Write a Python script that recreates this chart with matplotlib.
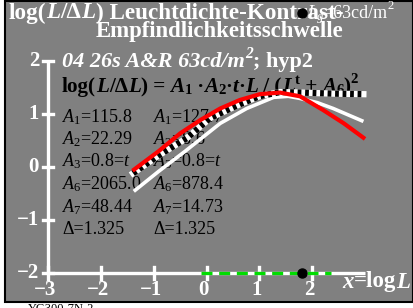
import numpy as np
import matplotlib
matplotlib.use("Agg")
import matplotlib.pyplot as plt
from matplotlib.patches import Rectangle

plt.rcParams['font.family'] = ['Liberation Serif', 'DejaVu Serif']
plt.rcParams['mathtext.fontset'] = 'custom'
plt.rcParams['mathtext.rm'] = 'Liberation Serif'
plt.rcParams['mathtext.it'] = 'Liberation Serif:italic'
plt.rcParams['mathtext.bf'] = 'Liberation Serif:bold'

# curves (x = log L, y = log(L/dL))
red_x = [-1.37, -0.9, -0.5, -0.12, 0.26, 0.63, 1.01, 1.39, 1.77, 2.21, 2.6, 2.97]
red_y = [-0.05, 0.30, 0.63, 0.88, 1.10, 1.26, 1.37, 1.40, 1.33, 1.07, 0.82, 0.55]

white_x = [-1.35, -0.9, -0.41, 0.26, 0.76, 1.27, 1.55, 1.77, 2.1, 2.4, 2.94]
white_y = [-0.44, -0.08, 0.29, 0.82, 1.10, 1.31, 1.33, 1.29, 1.21, 1.10, 0.87]

dash_x = [-1.39, -0.9, -0.375, 0.07, 0.63, 1.0, 1.39, 1.8, 2.4, 2.97]
dash_y = [-0.12, 0.22, 0.54, 0.92, 1.18, 1.33, 1.41, 1.40, 1.38, 1.37]

green_x = [-0.1, 2.35]
adapt_x = 1.8

xticks = [-3, -2, -1, 0, 1, 2]
yticks = [-2, -1, 0, 1, 2]
xlabels = ['\u22123', '\u22122', '\u22121', '0', '1', '2']
ylabels = ['\u22122', '\u22121', '0', '1', '2']

col1 = [r'$A_1$=115.8', r'$A_2$=22.29', r'$A_3$=0.8=$t$', r'$A_6$=2065.0', r'$A_7$=48.44', '\u0394=1.325']
col2 = [r'$A_1$=127.7', r'$A_2$=8.6', r'$A_3$=0.8=$t$', r'$A_6$=878.4', r'$A_7$=14.73', '\u0394=1.325']

W, H = 413, 308
fig = plt.figure(figsize=(W / 100, H / 100), dpi=100)
ax = fig.add_axes([0, 0, 1, 1])
ax.set_xlim(-3.91, 3.91)
ax.set_ylim(-2.66, 3.145)
ax.axis('off')
renderer = fig.canvas.get_renderer()
ftr = fig.transFigure


def px(p, q):
    return p / W, 1 - q / H


def seq(p, q, parts, color, size, weight='normal', z=5):
    # parts: (text, italic, rise in px); rise != 0 -> small script
    x = p
    for s, it, rise in parts:
        fs = size * 0.7 if rise else size
        t = ax.text(*px(x, q - rise), s, color=color, fontsize=fs, fontweight=weight,
                    fontstyle='italic' if it else 'normal', va='center', ha='left',
                    zorder=z, transform=ftr, clip_on=False)
        x += t.get_window_extent(renderer).width
    return x


bg = Rectangle(px(5, 302), (W - 5) / W, 301 / H, transform=ftr, clip_on=False,
               facecolor='#808080', edgecolor='black', lw=1.5, zorder=0)
ax.add_patch(bg)

# axes
ax.plot([-3, 3.0], [-2, -2], color='white', lw=2.4, zorder=2, solid_capstyle='butt')
ax.plot([-3, -3], [-2, 2], color='white', lw=2.4, zorder=2, solid_capstyle='butt')
for t in xticks:
    ax.plot([t, t], [-2.11, -1.89], color='white', lw=2.4, zorder=2)
for t in yticks:
    ax.plot([-3.1, -2.9], [t, t], color='white', lw=2.4, zorder=2)

ax.plot(green_x, [-2, -2], color='#00dd00', lw=2.4, dashes=(3.3, 2.0), zorder=3)
ax.plot([adapt_x], [-2], 'o', color='black', ms=6.5, zorder=4)
ax.plot([adapt_x], [2.9], 'o', color='black', ms=6.5, zorder=8)

for t, s in zip(xticks, xlabels):
    ax.text(t - 0.05, -2.32, s, color='white', fontsize=15, fontweight='bold',
            ha='center', va='center', zorder=2)
for t, s in zip(yticks, ylabels):
    ax.text(-3.17, t, s, color='white', fontsize=15, fontweight='bold',
            ha='right', va='center', zorder=2)

# curves
ax.plot(white_x, white_y, color='white', lw=2.6, zorder=3)
ax.plot(dash_x, dash_y, color='white', lw=4.5, zorder=3)
ax.plot(dash_x, dash_y, color='black', lw=4.5, dashes=(0.6, 0.6), zorder=3)
ax.plot(red_x, red_y, color='red', lw=3.0, zorder=4)

# texts
seq(9, 13, [('log(', 0, 0), ('L', 1, 0), ('/\u0394', 0, 0), ('L', 1, 0),
            (') Leuchtdichte-Kontrast-', 0, 0)], 'white', 16.7, 'bold')
seq(307, 13, [('L', 1, 0), ('g', 1, -4), ('=63cd/m', 0, 0), ('2', 0, 7)],
    'white', 13, 'normal', z=7)
ax.text(*px(220, 31), 'Empfindlichkeitsschwelle', color='white', fontsize=16.4,
        fontweight='bold', va='center', ha='center', zorder=5, transform=ftr)
seq(62, 62, [('04 26s A&R 63cd/m', 1, 0), ('2', 1, 8), ('; hyp2', 0, 0)],
    'white', 16, 'bold', z=1)
seq(62, 87, [('log(', 0, 0), ('L', 1, 0), ('/\u0394', 0, 0), ('L', 1, 0), (') = ', 0, 0),
             ('A', 1, 0), ('1', 0, -4), (' \u00b7', 0, 0), ('A', 1, 0), ('2', 0, -4),
             ('\u00b7', 0, 0), ('t', 1, 0), ('\u00b7', 0, 0), ('L', 1, 0), (' / (', 0, 0),
             ('L', 1, 0), ('t', 0, 7), (' + ', 0, 0), ('A', 1, 0), ('6', 0, -4),
             (')', 0, 0), ('2', 0, 8)], 'black', 15.2, 'bold', z=1)

rows_q = [117, 139, 161, 184, 207, 230]
for q, a, b in zip(rows_q, col1, col2):
    ax.text(*px(62, q), a, color='black', fontsize=13, va='center', ha='left', zorder=1,
            transform=ftr)
    ax.text(*px(153, q), b, color='black', fontsize=13, va='center', ha='left', zorder=1,
            transform=ftr)

seq(342, 282, [('x', 1, 0), ('=log', 0, 0), ('L', 1, 0)], 'white', 16.5, 'bold')
ax.text(*px(28, 303), 'YG300-7N-2', color='black', fontsize=9, va='top', ha='left',
        transform=ftr, clip_on=False)

fig.savefig('out.png', dpi=100, facecolor='white')
